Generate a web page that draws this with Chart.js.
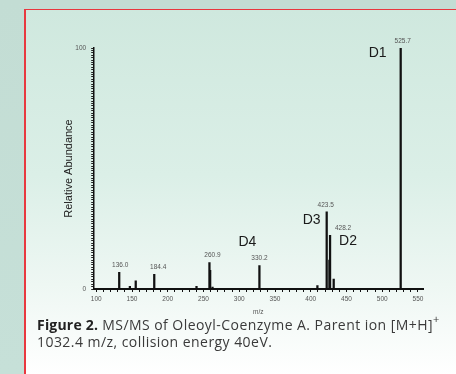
<!DOCTYPE html>
<html>
<head>
<meta charset="utf-8">
<script src="https://cdn.jsdelivr.net/npm/chart.js@4.4.1/dist/chart.umd.min.js"></script>
<style>
  html, body { margin: 0; padding: 0; }
  body {
    width: 456px; height: 374px; overflow: hidden; position: relative;
    background: linear-gradient(180deg, #c3ddd4 0%, #c6e0d8 100%);
  }
  #panel {
    position: absolute; left: 24px; top: 9px; right: -2px; bottom: -2px;
    border-left: 2px solid #e8383f; border-top: 1px solid #e8383f;
    background: linear-gradient(180deg, #cfe8de 0%, #dbefe7 45%, #eef7f3 75%, #ffffff 100%);
  }
  #ms { position: absolute; left: 0; top: 0; }
  #caption {
    position: absolute; left: 37px; top: 316px; width: 420px;
    font-family: "Open Sans", sans-serif; font-size: 14px; line-height: 17px;
    letter-spacing: 0.45px; color: #3a3a3a; white-space: nowrap;
  }
  #caption b { color: #222; letter-spacing: 0.2px; }
  #caption sup { font-size: 11px; line-height: 0; position: relative; top: -1px; }
</style>
</head>
<body>
<div id="panel"></div>
<canvas id="ms" width="456" height="320"></canvas>
<div id="caption"><b>Figure 2.</b> MS/MS of Oleoyl-Coenzyme A. Parent ion [M+H]<sup>+</sup><br>1032.4 m/z, collision energy 40eV.</div>
<script>
// peaks
const peakMz    = [132.1, 147.0, 155.2, 181.1, 240.2, 258.3, 259.3, 262.6, 328.2, 409.3, 422.3, 426.1, 427.0, 432.1, 525.8];
const peakAbund = [6.9,   1.1,   3.4,   6.1,   1.1,   11.0,  7.7,   0.8,   9.7,   1.4,   32.0,  12.0,  22.3,  4.1,   100];

// small numeric labels above peaks
const labelMz   = [132.1, 181.1, 258.3, 328.2, 422.3, 427.0, 525.8];
const labelText = ['136.0', '184.4', '260.9', '330.2', '423.5', '428.2', '525.7'];

// fragment names
const fragNames = ['D1', 'D2', 'D3', 'D4'];
const fragMz    = [525.8, 427.0, 422.3, 328.2];

const xTicks = [100, 150, 200, 250, 300, 350, 400, 450, 500, 550];
const yTicks = [0, 100];

const heightAt = (mz) => peakAbund[peakMz.indexOf(mz)];

// label placement relative to the peak top (px)
const labelShift = [1, 4, 3, 0, -1, 13, 2];
const fragOffset = { D1: [-23, 5], D2: [18, 5.5], D3: [-15, 8], D4: [-12, -23] };

const peakLabels = {
  id: 'peakLabels',
  afterDatasetsDraw(chart) {
    const { ctx, scales: { x, y } } = chart;
    ctx.save();
    ctx.textAlign = 'center';
    ctx.textBaseline = 'middle';
    ctx.fillStyle = '#555';
    ctx.font = '6.5px "Liberation Sans", Arial, sans-serif';
    labelMz.forEach((mz, i) => {
      ctx.fillText(labelText[i], x.getPixelForValue(mz) + labelShift[i], y.getPixelForValue(heightAt(mz)) - 7);
    });
    ctx.fillStyle = '#1a1a1a';
    ctx.font = '14px "Liberation Sans", Arial, sans-serif';
    fragNames.forEach((name, i) => {
      const [dx, dy] = fragOffset[name];
      ctx.fillText(name, x.getPixelForValue(fragMz[i]) + dx, y.getPixelForValue(heightAt(fragMz[i])) + dy);
    });
    ctx.restore();
  }
};

new Chart(document.getElementById('ms'), {
  type: 'bar',
  data: {
    datasets: [{
      data: peakMz.map((mz, i) => ({ x: mz, y: peakAbund[i] })),
      backgroundColor: '#111',
      borderWidth: 0,
      barThickness: 1.6,
    }],
  },
  options: {
    responsive: false,
    animation: false,
    events: [],
    layout: { padding: { top: 48, right: 33, left: 62, bottom: 4 } },
    plugins: { legend: { display: false }, tooltip: { enabled: false } },
    scales: {
      x: {
        type: 'linear',
        min: 96.4, max: 557,
        offset: false,
        border: { color: '#111', width: 2 },
        grid: { drawOnChartArea: false, offset: false, tickLength: 3, tickColor: '#111', lineWidth: 1 },
        ticks: {
          stepSize: 10, autoSkip: false, includeBounds: false, maxRotation: 0, padding: 3,
          color: '#555', font: { size: 6.5, family: '"Liberation Sans", Arial, sans-serif' },
          callback: (v) => xTicks.includes(v) ? String(v) : '',
        },
        title: { display: true, text: 'm/z', color: '#555', padding: 0,
                 font: { size: 6.5, family: '"Liberation Sans", Arial, sans-serif' } },
        afterFit: (s) => { s.height = 27; },
      },
      y: {
        min: 0, max: 100,
        border: { color: '#111', width: 1.5 },
        grid: { drawOnChartArea: false, tickLength: 2.5, tickColor: '#222', lineWidth: 1 },
        ticks: {
          stepSize: 1, autoSkip: false, padding: 5,
          color: '#555', font: { size: 6.5, family: '"Liberation Sans", Arial, sans-serif' },
          callback: (v) => yTicks.includes(v) ? String(v) : '',
        },
        title: { display: true, text: 'Relative Abundance', color: '#222', padding: 0,
                 font: { size: 11, family: '"Liberation Sans", Arial, sans-serif' } },
        afterFit: (s) => { s.width = 31.7; },
      },
    },
  },
  plugins: [peakLabels],
});
</script>
</body>
</html>
